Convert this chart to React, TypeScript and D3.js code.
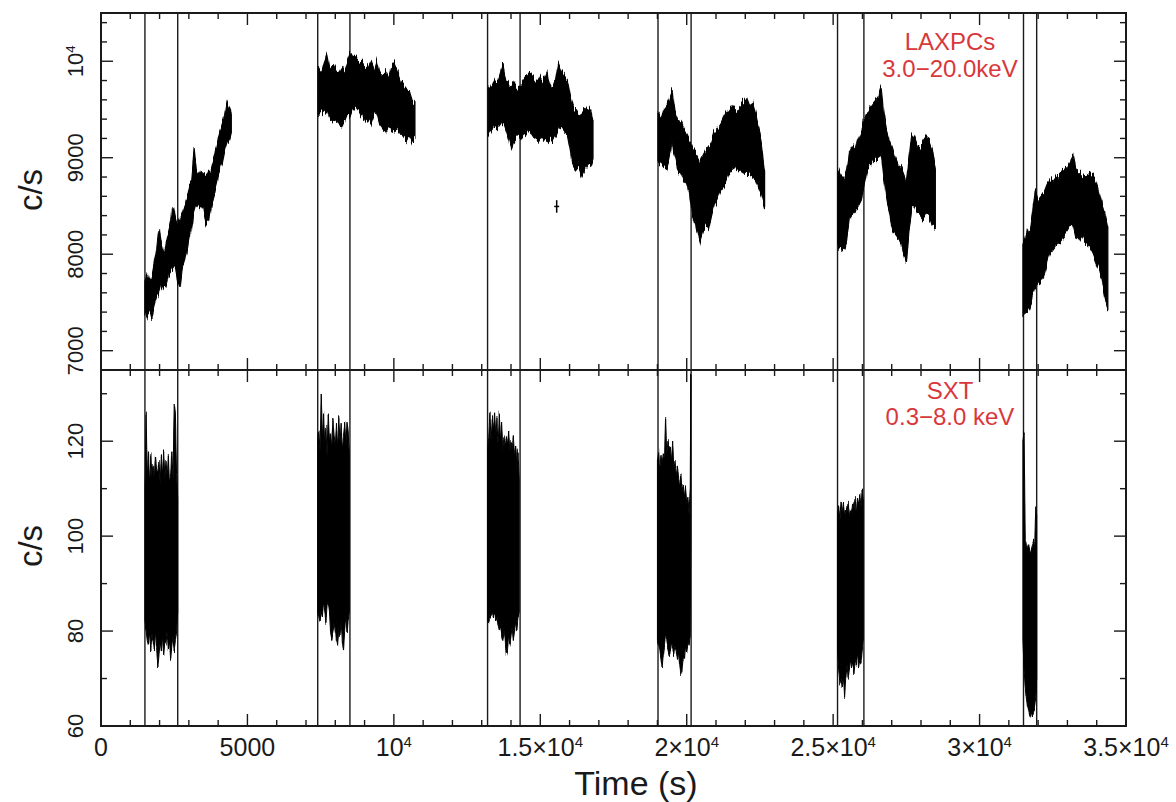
import React from "react";
import * as d3 from "d3";

const W = 1176;
const H = 802;

// LAXPCs light curve, 3.0-20.0 keV: [time (s), low, high] of the plotted band (c/s)
const laxpc1 = [
  [1500, 7400, 7720], [1580, 7340, 7800], [1660, 7420, 7700], [1740, 7320, 7760],
  [1820, 7480, 7900], [1900, 7560, 8050], [1980, 7600, 8270], [2060, 7700, 8120],
  [2140, 7640, 8000], [2220, 7680, 8080], [2300, 7780, 8200], [2380, 7820, 8350],
  [2460, 7840, 8500], [2540, 7900, 8380], [2620, 7700, 8300], [2700, 7640, 8360],
  [2780, 7880, 8420], [2860, 7960, 8500], [2940, 8040, 8580], [3020, 8180, 8700],
  [3100, 8300, 8760], [3180, 8440, 9100], [3260, 8520, 8860], [3340, 8480, 8820],
  [3420, 8500, 8880], [3500, 8460, 8820], [3580, 8320, 8800], [3660, 8340, 8860],
  [3740, 8440, 8840], [3820, 8560, 8940], [3900, 8680, 9060], [3980, 8780, 9180],
  [4060, 8900, 9260], [4140, 8960, 9340], [4220, 9080, 9420], [4300, 9160, 9580],
  [4380, 9200, 9520], [4450, 9280, 9460],
];
const laxpc2 = [
  [7420, 9440, 9940], [7520, 9480, 9880], [7620, 9460, 10000], [7720, 9500, 10080],
  [7820, 9400, 9920], [7920, 9380, 9960], [8020, 9420, 9900], [8120, 9350, 9880],
  [8220, 9320, 9940], [8320, 9380, 9900], [8420, 9460, 10000], [8520, 9420, 10080],
  [8620, 9500, 10020], [8720, 9520, 10040], [8820, 9480, 10000], [8920, 9440, 9980],
  [9020, 9380, 9960], [9120, 9400, 9920], [9220, 9360, 9980], [9320, 9440, 9900],
  [9420, 9460, 10000], [9520, 9340, 9880], [9620, 9300, 9860], [9720, 9260, 9880],
  [9820, 9320, 9820], [9920, 9280, 9940], [10020, 9300, 9980], [10120, 9320, 9900],
  [10220, 9260, 9800], [10320, 9220, 9760], [10420, 9180, 9720], [10520, 9240, 9700],
  [10620, 9180, 9600], [10720, 9220, 9560],
];
const laxpc3 = [
  [13220, 9220, 9700], [13320, 9280, 9740], [13420, 9320, 9800], [13520, 9300, 9760],
  [13620, 9340, 9860], [13720, 9390, 9960], [13820, 9300, 9800], [13920, 9200, 9760],
  [14020, 9090, 9720], [14120, 9180, 9780], [14220, 9220, 9700], [14320, 9200, 9750],
  [14420, 9260, 9800], [14520, 9240, 9840], [14620, 9280, 9880], [14720, 9250, 9860],
  [14820, 9200, 9820], [14920, 9180, 9780], [15020, 9220, 9840], [15120, 9180, 9800],
  [15220, 9160, 9880], [15320, 9200, 9780], [15420, 9180, 9720], [15520, 9220, 9800],
  [15620, 9300, 9980], [15720, 9320, 9900], [15820, 9280, 9860], [15920, 9260, 9820],
  [16020, 9100, 9660], [16120, 8920, 9520], [16220, 8860, 9480], [16320, 8900, 9440],
  [16420, 8800, 9460], [16520, 8860, 9500], [16620, 8920, 9520], [16720, 8900, 9480],
  [16800, 8980, 9380],
];
const laxpc4 = [
  [19020, 8940, 9480], [19120, 8960, 9420], [19220, 8920, 9520], [19320, 8900, 9560],
  [19420, 9050, 9620], [19500, 9150, 9700], [19600, 9000, 9480], [19700, 8860, 9400],
  [19800, 8840, 9380], [19900, 8760, 9300], [20000, 8720, 9240], [20100, 8600, 9180],
  [20200, 8400, 9100], [20300, 8300, 9060], [20400, 8180, 9000], [20450, 8130, 8960],
  [20550, 8240, 9020], [20650, 8300, 9080], [20750, 8260, 9120], [20850, 8400, 9160],
  [20950, 8520, 9260], [21050, 8580, 9300], [21150, 8660, 9340], [21250, 8700, 9400],
  [21350, 8760, 9460], [21450, 8840, 9500], [21550, 8880, 9540], [21650, 8900, 9500],
  [21750, 8880, 9480], [21850, 8860, 9560], [21950, 8840, 9580], [22050, 8840, 9620],
  [22150, 8820, 9540], [22250, 8800, 9560], [22350, 8780, 9460], [22450, 8700, 9320],
  [22550, 8620, 9140], [22660, 8500, 8860],
];
const laxpc5 = [
  [25160, 8080, 8900], [25260, 8060, 8820], [25360, 8040, 8760], [25460, 8120, 8860],
  [25560, 8380, 9060], [25660, 8420, 9120], [25760, 8460, 9080], [25860, 8500, 9200],
  [25960, 8560, 9280], [26060, 8700, 9380], [26160, 8860, 9460], [26260, 8900, 9520],
  [26360, 8960, 9560], [26460, 8980, 9600], [26560, 9000, 9640], [26640, 9020, 9730],
  [26720, 8800, 9500], [26820, 8600, 9280], [26920, 8420, 9180], [27020, 8260, 9100],
  [27120, 8200, 9000], [27220, 8160, 8920], [27320, 8100, 8900], [27420, 8000, 8820],
  [27500, 7900, 8760], [27580, 8200, 8960], [27680, 8480, 9250], [27780, 8500, 9200],
  [27880, 8420, 9120], [27980, 8400, 9100], [28080, 8360, 9160], [28180, 8420, 9200],
  [28280, 8400, 9180], [28380, 8300, 9100], [28490, 8280, 8880],
];
const laxpc6 = [
  [31480, 7380, 8100], [31560, 7400, 8180], [31640, 7420, 8260], [31720, 7460, 8200],
  [31800, 7560, 8400], [31900, 7660, 8660], [32000, 7700, 8560], [32100, 7720, 8600],
  [32200, 7780, 8640], [32300, 7900, 8720], [32400, 8000, 8780], [32500, 8040, 8760],
  [32600, 8080, 8800], [32700, 8120, 8820], [32800, 8160, 8860], [32900, 8200, 8880],
  [33000, 8240, 8900], [33100, 8300, 8960], [33180, 8320, 9050], [33280, 8180, 8900],
  [33380, 8140, 8840], [33480, 8200, 8820], [33580, 8140, 8800], [33680, 8100, 8820],
  [33780, 8060, 8840], [33880, 8000, 8820], [33980, 7920, 8740], [34080, 7860, 8640],
  [34180, 7740, 8520], [34280, 7560, 8420], [34380, 7420, 8280],
];
const laxpcOutlier = [15560, 8430, 8560];

// SXT light curve, 0.3-8.0 keV: [time (s), low, high] (c/s)
const sxt1 = [
  [1500, 82, 110], [1540, 80, 126], [1580, 78, 112], [1620, 77, 118], [1660, 80, 111],
  [1700, 76, 117], [1740, 79, 113], [1780, 78, 115], [1820, 76, 112], [1860, 80, 117],
  [1900, 77, 114], [1940, 72, 113], [1980, 75, 116], [2020, 78, 111], [2060, 76, 117],
  [2100, 79, 113], [2140, 75, 118], [2180, 78, 112], [2220, 77, 116], [2260, 80, 113],
  [2300, 76, 117], [2340, 78, 111], [2380, 74, 113], [2420, 77, 118], [2460, 79, 112],
  [2500, 76, 128], [2540, 78, 126], [2580, 80, 113], [2620, 84, 108],
];
const sxt2 = [
  [7400, 84, 120], [7440, 83, 122], [7480, 82, 118], [7520, 84, 130], [7560, 83, 121],
  [7600, 86, 126], [7640, 84, 119], [7680, 82, 123], [7720, 85, 117], [7760, 86, 126],
  [7800, 84, 120], [7840, 80, 122], [7880, 78, 118], [7920, 80, 125], [7960, 82, 121],
  [8000, 80, 119], [8040, 78, 124], [8080, 77, 118], [8120, 80, 125], [8160, 79, 120],
  [8200, 82, 124], [8240, 78, 118], [8280, 76, 121], [8320, 80, 124], [8360, 83, 119],
  [8400, 80, 124], [8440, 82, 122], [8480, 84, 117],
];
const sxt3 = [
  [13200, 82, 118], [13240, 82, 121], [13280, 83, 126], [13320, 83, 120], [13360, 84, 125],
  [13400, 83, 122], [13440, 84, 126], [13480, 82, 121], [13520, 83, 125], [13560, 81, 119],
  [13600, 80, 126], [13640, 81, 120], [13680, 79, 124], [13720, 78, 118], [13760, 80, 121],
  [13800, 78, 119], [13840, 75, 121], [13880, 76, 119], [13920, 79, 122], [13960, 77, 118],
  [14000, 79, 120], [14040, 81, 119], [14080, 78, 121], [14120, 80, 117], [14160, 82, 119],
  [14200, 80, 115], [14240, 83, 118], [14280, 84, 112],
];
const sxt4 = [
  [19000, 78, 116], [19040, 77, 118], [19080, 76, 114], [19120, 74, 117], [19160, 72, 115],
  [19200, 75, 118], [19240, 77, 116], [19280, 79, 125], [19320, 78, 117], [19360, 76, 120],
  [19400, 75, 118], [19440, 76, 119], [19480, 78, 116], [19520, 76, 120], [19560, 75, 114],
  [19600, 77, 116], [19640, 76, 113], [19680, 74, 115], [19720, 76, 112], [19760, 73, 111],
  [19800, 71, 113], [19840, 72, 109], [19880, 75, 111], [19920, 74, 108], [19960, 77, 110],
  [20000, 76, 107], [20040, 78, 108], [20080, 77, 105], [20120, 79, 110], [20140, 100, 134],
];
const sxt5 = [
  [25150, 76, 104], [25190, 72, 106], [25230, 69, 103], [25270, 70, 107], [25310, 68, 105],
  [25350, 71, 107], [25390, 66, 104], [25430, 70, 106], [25470, 73, 105], [25510, 70, 107],
  [25550, 72, 104], [25590, 74, 106], [25630, 72, 105], [25670, 73, 107], [25710, 71, 106],
  [25750, 74, 108], [25790, 73, 105], [25830, 75, 108], [25870, 72, 107], [25910, 74, 109],
  [25950, 73, 106], [25990, 76, 110], [26030, 78, 108],
];
const sxt6 = [
  [31480, 78, 120], [31520, 72, 122], [31560, 68, 99], [31600, 66, 98], [31640, 64, 97],
  [31680, 63, 98], [31720, 62, 96], [31760, 63, 97], [31800, 62, 98], [31840, 63, 99],
  [31880, 64, 98], [31920, 66, 106], [31950, 70, 104],
];

const laxpcSegments = [laxpc1, laxpc2, laxpc3, laxpc4, laxpc5, laxpc6];
const sxtSegments = [sxt1, sxt2, sxt3, sxt4, sxt5, sxt6];

// start/stop of the simultaneous intervals (s)
const intervalEdges = [1500, 2620, 7400, 8500, 13200, 14310, 19020, 20150, 25150, 26050, 31500, 31950];

const xTicks = [0, 5000, 10000, 15000, 20000, 25000, 30000, 35000];
const xTickLabels = ["0", "5000", "10^4", "1.5×10^4", "2×10^4", "2.5×10^4", "3×10^4", "3.5×10^4"];
const topTicks = [7000, 8000, 9000, 10000];
const topTickLabels = ["7000", "8000", "9000", "10^4"];
const botTicks = [60, 80, 100, 120];
const botTickLabels = ["60", "80", "100", "120"];

const font = "'Liberation Sans', Arial, Helvetica, sans-serif";
const red = "#d8383c";
const ink = "#1a1a1a";

function sup(s: string) {
  const [base, exp] = s.split("^");
  return (
    <>
      {base}
      {exp && (
        <tspan dy="-0.6em" fontSize="0.6em">
          {exp}
        </tspan>
      )}
    </>
  );
}

export default function App() {
  const left = 101, right = 1126, top = 13, mid = 370, bottom = 726;
  const x = d3.scaleLinear().domain([0, 35000]).range([left, right]);
  const yTop = d3.scaleLinear().domain([6800, 10500]).range([mid, top]);
  const yBot = d3.scaleLinear().domain([60, 135]).range([bottom, mid]);

  const topArea = d3.area<number[]>().x((d) => x(d[0])).y0((d) => yTop(d[1])).y1((d) => yTop(d[2]));
  const botArea = d3.area<number[]>().x((d) => x(d[0])).y0((d) => yBot(d[1])).y1((d) => yBot(d[2]));

  const xMinor = d3.range(0, 35001, 1000);
  const topMinor = d3.range(6800, 10500, 200);
  const botMinor = d3.range(60, 135, 10);
  const maj = 12, mnr = 6;

  const xTickMarks = (yy: number, dir: number) =>
    xMinor.map((t) => {
      const len = t % 5000 === 0 ? maj : mnr;
      return <line key={`${yy}-${dir}-${t}`} x1={x(t)} x2={x(t)} y1={yy} y2={yy + dir * len} />;
    });

  const yTickMarks = (scale: d3.ScaleLinear<number, number>, minor: number[], majors: number[], key: string) =>
    minor.flatMap((v) => {
      const len = majors.includes(v) ? maj : mnr;
      const yy = scale(v);
      return [
        <line key={`${key}l${v}`} x1={left} x2={left + len} y1={yy} y2={yy} />,
        <line key={`${key}r${v}`} x1={right} x2={right - len} y1={yy} y2={yy} />,
      ];
    });

  return (
    <svg width={W} height={H} style={{ position: "absolute", left: 0, top: 0, background: "#fff" }} fontFamily={font}>
      <defs>
        {/* roughens the band edges vertically, like the scatter of the binned points */}
        <filter id="fuzz" filterUnits="userSpaceOnUse" x={0} y={0} width={W} height={H}>
          <feTurbulence type="fractalNoise" baseFrequency="0.55 0.04" numOctaves={2} seed={7} result="n" />
          <feColorMatrix
            in="n"
            type="matrix"
            values="0 0 0 0 0.5  0 1 0 0 0  0 0 1 0 0  0 0 0 0 1"
            result="m"
          />
          <feDisplacementMap in="SourceGraphic" in2="m" scale={14} xChannelSelector="R" yChannelSelector="G" />
        </filter>
        <filter id="fuzzSoft" filterUnits="userSpaceOnUse" x={0} y={0} width={W} height={H}>
          <feTurbulence type="fractalNoise" baseFrequency="0.7 0.05" numOctaves={2} seed={3} result="n" />
          <feColorMatrix
            in="n"
            type="matrix"
            values="0 0 0 0 0.5  0 1 0 0 0  0 0 1 0 0  0 0 0 0 1"
            result="m"
          />
          <feDisplacementMap in="SourceGraphic" in2="m" scale={10} xChannelSelector="R" yChannelSelector="G" />
        </filter>
      </defs>

      {/* interval markers */}
      <g stroke={ink} strokeWidth={1.4}>
        {intervalEdges.map((t) => (
          <line key={t} x1={x(t)} x2={x(t)} y1={top} y2={bottom} />
        ))}
      </g>

      {/* LAXPC band */}
      <g fill="#000" stroke="#000" strokeWidth={1.2} filter="url(#fuzz)">
        {laxpcSegments.map((seg, i) => (
          <path key={i} d={topArea(seg) || undefined} />
        ))}
      </g>
      <g stroke="#000" strokeWidth={1.5}>
        <line x1={x(laxpcOutlier[0])} x2={x(laxpcOutlier[0])} y1={yTop(laxpcOutlier[1])} y2={yTop(laxpcOutlier[2])} />
        <line
          x1={x(laxpcOutlier[0]) - 2.5}
          x2={x(laxpcOutlier[0]) + 2.5}
          y1={yTop((laxpcOutlier[1] + laxpcOutlier[2]) / 2)}
          y2={yTop((laxpcOutlier[1] + laxpcOutlier[2]) / 2)}
        />
      </g>

      {/* SXT band */}
      <g fill="#000" stroke="#000" strokeWidth={1} filter="url(#fuzzSoft)">
        {sxtSegments.map((seg, i) => (
          <path key={i} d={botArea(seg) || undefined} />
        ))}
      </g>

      {/* frames and ticks */}
      <g stroke={ink} strokeWidth={1.4}>
        {xTickMarks(top, 1)}
        {xTickMarks(mid, -1)}
        {xTickMarks(mid, 1)}
        {xTickMarks(bottom, -1)}
        {yTickMarks(yTop, topMinor, topTicks, "t")}
        {yTickMarks(yBot, botMinor, botTicks, "b")}
      </g>
      <g fill="none" stroke={ink} strokeWidth={2}>
        <rect x={left} y={top} width={right - left} height={bottom - top} />
        <line x1={left} x2={right} y1={mid} y2={mid} />
      </g>

      {/* tick labels */}
      <g fontSize={25} fill={ink} textAnchor="middle">
        {xTicks.map((t, i) => (
          <text key={t} x={x(t)} y={756}>
            {sup(xTickLabels[i])}
          </text>
        ))}
      </g>
      <g fontSize={22} fill={ink} textAnchor="middle">
        {topTicks.map((v, i) => (
          <text key={v} transform={`translate(83,${yTop(v)}) rotate(-90)`}>
            {sup(topTickLabels[i])}
          </text>
        ))}
        {botTicks.map((v, i) => (
          <text key={v} transform={`translate(83,${yBot(v)}) rotate(-90)`}>
            {sup(botTickLabels[i])}
          </text>
        ))}
      </g>

      {/* axis titles */}
      <g fontSize={33} fill={ink} textAnchor="middle">
        <text transform="translate(42,190) rotate(-90)">c/s</text>
        <text transform="translate(42,546) rotate(-90)">c/s</text>
        <text x={636} y={795} fontSize={34}>
          Time (s)
        </text>
      </g>

      {/* instrument labels */}
      <g fontSize={24} fill={red} textAnchor="middle">
        <text x={950} y={50}>LAXPCs</text>
        <text x={950} y={77}>3.0−20.0keV</text>
        <text x={950} y={399}>SXT</text>
        <text x={950} y={425}>0.3−8.0 keV</text>
      </g>
    </svg>
  );
}
